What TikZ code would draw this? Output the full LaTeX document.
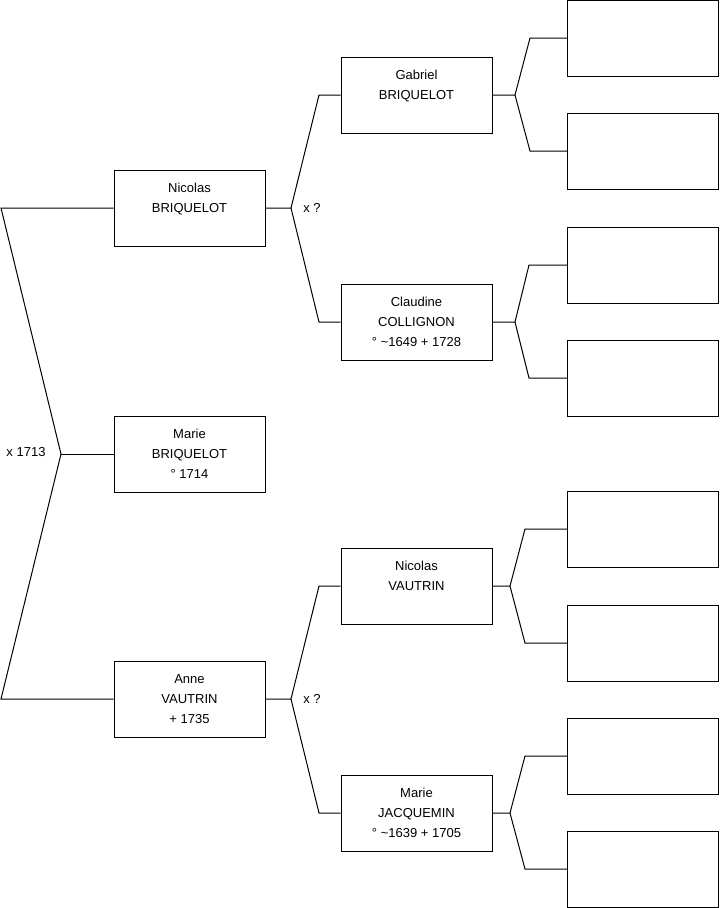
\documentclass[tikz,border=0pt]{standalone}
\usepackage{fontspec}
\setmainfont{Liberation Sans}

\begin{document}
\begin{tikzpicture}[
        x=0.75pt, y=-0.75pt,
        line width=0.75pt,
        person/.style={draw, inner sep=0pt, minimum width=113.25pt, minimum height=57pt,
            align=center, font=\fontsize{9.75}{15}\selectfont},
        tag/.style={inner sep=0pt, font=\fontsize{9.75}{15}\selectfont}
    ]
    \useasboundingbox (0,0) rectangle (719,908);
    % generation 1
    \node[person] (nicolas) at (189.5,208) {Nicolas\\BRIQUELOT\\\mbox{}};
    \node[person] (marie) at (189.5,454) {Marie\\BRIQUELOT\\° 1714};
    \node[person] (anne) at (189.5,699) {Anne\\VAUTRIN\\+ 1735};
    % generation 2
    \node[person] (gabriel) at (416.5,95) {Gabriel\\BRIQUELOT\\\mbox{}};
    \node[person] (claudine) at (416.5,322) {Claudine\\COLLIGNON\\° \textasciitilde1649 + 1728};
    \node[person] (nvautrin) at (416.5,586) {Nicolas\\VAUTRIN\\\mbox{}};
    \node[person] (jacquemin) at (416.5,813) {Marie\\JACQUEMIN\\° \textasciitilde1639 + 1705};
    % generation 3, still empty
    \foreach \y [count=\i] in {38,151,265,378,529,643,756,869}
        \node[person] (anc\i) at (643,\y) {};

    % marriage of the parents
    \coordinate (m0) at (61,454);
    \coordinate (m1) at (1,208);
    \coordinate (m2) at (1,699);
    \draw (nicolas.west) -- (m1) -- (m0) -- (m2) -- (anne.west);
    \draw (m0) -- (marie.west);
    \node[tag] (wed0) at (26,452) {x 1713};

    % parents of Nicolas
    \coordinate (n0) at (291,208);
    \coordinate (n1) at (319,95);
    \coordinate (n2) at (319,322);
    \draw (nicolas.east) -- (n0) -- (n1) -- (gabriel.west);
    \draw (n0) -- (n2) -- (claudine.west);
    \node[tag] (wed1) at (312,208) {x ?};

    % parents of Anne
    \coordinate (a0) at (291,699);
    \coordinate (a1) at (319,586);
    \coordinate (a2) at (319,813);
    \draw (anne.east) -- (a0) -- (a1) -- (nvautrin.west);
    \draw (a0) -- (a2) -- (jacquemin.west);
    \node[tag] (wed2) at (312,699) {x ?};

    % forks to the empty boxes
    \coordinate (g0) at (515,95);
    \coordinate (g1) at (530,38);
    \coordinate (g2) at (530,151);
    \draw (gabriel.east) -- (g0) -- (g1) -- (anc1.west);
    \draw (g0) -- (g2) -- (anc2.west);

    \coordinate (c0) at (515,322);
    \coordinate (c1) at (529,265);
    \coordinate (c2) at (529,378);
    \draw (claudine.east) -- (c0) -- (c1) -- (anc3.west);
    \draw (c0) -- (c2) -- (anc4.west);

    \coordinate (v0) at (510,586);
    \coordinate (v1) at (525,529);
    \coordinate (v2) at (525,643);
    \draw (nvautrin.east) -- (v0) -- (v1) -- (anc5.west);
    \draw (v0) -- (v2) -- (anc6.west);

    \coordinate (j0) at (510,813);
    \coordinate (j1) at (525,756);
    \coordinate (j2) at (525,869);
    \draw (jacquemin.east) -- (j0) -- (j1) -- (anc7.west);
    \draw (j0) -- (j2) -- (anc8.west);
\end{tikzpicture}
\end{document}
